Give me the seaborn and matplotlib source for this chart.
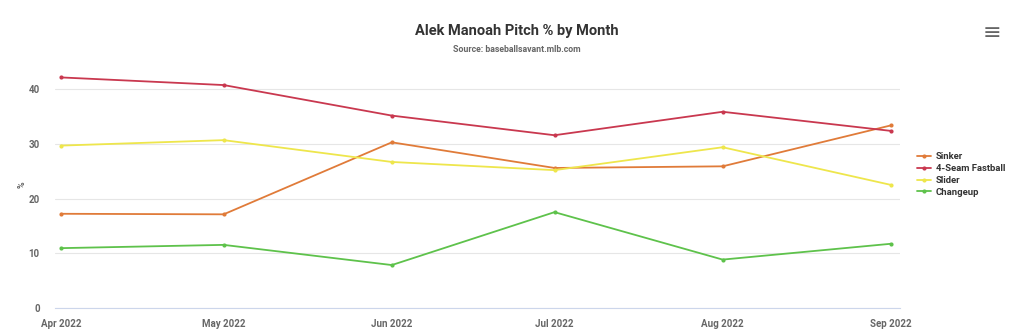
import matplotlib
matplotlib.use("Agg")
import matplotlib.pyplot as plt
import seaborn as sns
import pandas as pd
import numpy as np

months = ["2022-04-01", "2022-05-01", "2022-06-01", "2022-07-01", "2022-08-01", "2022-09-01"]
month_labels = ["Apr 2022", "May 2022", "Jun 2022", "Jul 2022", "Aug 2022", "Sep 2022"]
sinker = [17.2, 17.1, 30.3, 25.6, 25.9, 33.4]
fourseam = [42.2, 40.8, 35.2, 31.6, 35.9, 32.4]
slider = [29.7, 30.7, 26.7, 25.2, 29.4, 22.5]
changeup = [10.9, 11.5, 7.8, 17.5, 8.8, 11.7]
series_names = ["Sinker", "4-Seam Fastball", "Slider", "Changeup"]
colors = ["#e07b39", "#c9384f", "#eee64c", "#5ec24b"]
y_ticks = [0, 10, 20, 30, 40]

dates = pd.to_datetime(months)
frames = []
for name, vals in zip(series_names, [sinker, fourseam, slider, changeup]):
    frames.append(pd.DataFrame({"Month": dates, "Pct": vals, "Pitch": name}))
df = pd.concat(frames, ignore_index=True)

sns.set_theme(style="white")
plt.rcParams["font.family"] = ["Roboto", "DejaVu Sans"]

fig = plt.figure(figsize=(10.24, 3.32), dpi=100)
ax = fig.add_axes([55/1024, 24.4/332, 845/1024, 240/332])

sns.lineplot(data=df, x="Month", y="Pct", hue="Pitch", hue_order=series_names,
             palette=colors, marker="o", markersize=3, markeredgewidth=0,
             linewidth=1.3, ax=ax, legend=True)

ax.set_ylim(0, 44)
ax.set_xlim(dates[0] - pd.Timedelta(days=1.1), dates[-1] + pd.Timedelta(days=1.7))
ax.set_yticks(y_ticks)
ax.set_yticklabels([str(t) for t in y_ticks], fontsize=7, fontweight="bold", color="#666666")
ax.set_xticks(dates)
ax.set_xticklabels(month_labels, fontsize=7, fontweight="bold", color="#666666")
ax.tick_params(axis="y", length=0, pad=11)
ax.tick_params(axis="x", length=5, width=0.8, color="#ccd6eb", pad=3, direction="out")
ax.yaxis.grid(True, color="#e6e6e6", linewidth=0.8)
ax.xaxis.grid(False)
for s in ["top", "right", "left"]:
    ax.spines[s].set_visible(False)
ax.spines["bottom"].set_color("#ccd6eb")
ax.spines["bottom"].set_linewidth(0.8)
ax.set_axisbelow(True)
ax.set_xlabel("")
ax.set_ylabel("")
fig.text(22/1024, 1 - 185/332, "%", rotation=90, ha="center", va="center",
         fontsize=6.5, fontweight="bold", color="#666666")

leg = ax.legend(loc="center left", bbox_to_anchor=(1.01, 0.555), frameon=False,
                fontsize=6.8, handlelength=1.5, handletextpad=0.5, labelspacing=0.3)
for t in leg.get_texts():
    t.set_fontweight("bold")
    t.set_color("#333333")

fig.text(517/1024, 1 - 31/332, "Alek Manoah Pitch % by Month", ha="center", va="center",
         fontsize=10.5, fontweight="bold", color="#333333")
fig.text(517/1024, 1 - 50/332, "Source: baseballsavant.mlb.com", ha="center", va="center",
         fontsize=6.3, fontweight="bold", color="#666666")
fig.text(992/1024, 1 - 33/332, "\u2261", ha="center", va="center", fontsize=16,
         color="#666666", family=["DejaVu Sans"])

fig.savefig("out.png", dpi=100, facecolor="white")
